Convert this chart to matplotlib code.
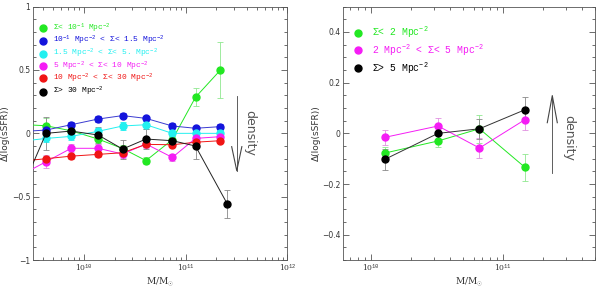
import numpy as np
import matplotlib
matplotlib.use("Agg")
import matplotlib.pyplot as plt
from matplotlib.ticker import NullFormatter, LogLocator, MultipleLocator

# ---------------- Left panel data ----------------
mass_left = [2.4e9, 4.25e9, 7.5e9, 1.38e10, 2.4e10, 4.08e10, 7.4e10, 1.25e11, 2.2e11]
mass_left_black = [2.4e9, 4.25e9, 7.5e9, 1.38e10, 2.4e10, 4.08e10, 7.4e10, 1.25e11, 2.57e11]

green_l = [0.07, 0.06, 0.02, -0.045, -0.12, -0.215, -0.05, 0.285, 0.50]
green_l_err = [0.06, 0.06, 0.03, 0.04, 0.03, 0.03, 0.03, 0.07, 0.22]
blue_l = [0.014, 0.026, 0.068, 0.113, 0.14, 0.118, 0.058, 0.04, 0.053]
blue_l_err = [0.02, 0.02, 0.02, 0.02, 0.02, 0.02, 0.02, 0.02, 0.02]
cyan_l = [-0.063, -0.04, -0.024, 0.016, 0.058, 0.068, 0.0, 0.0, 0.0]
cyan_l_err = [0.03, 0.03, 0.03, 0.03, 0.03, 0.03, 0.03, 0.03, 0.03]
magenta_l = [-0.33, -0.224, -0.118, -0.118, -0.163, -0.084, -0.19, -0.04, -0.026]
magenta_l_err = [0.05, 0.05, 0.03, 0.03, 0.03, 0.03, 0.03, 0.03, 0.03]
red_l = [-0.22, -0.2, -0.18, -0.166, -0.153, -0.087, -0.09, -0.07, -0.058]
red_l_err = [0.02, 0.02, 0.02, 0.02, 0.02, 0.02, 0.02, 0.02, 0.02]
black_l = [-0.46, 0.0, 0.018, -0.013, -0.124, -0.045, -0.058, -0.10, -0.558]
black_l_err = [0.13, 0.13, 0.05, 0.06, 0.075, 0.08, 0.04, 0.10, 0.11]

labels_left = [
    r"Σ< 10$^{-1}$ Mpc$^{-2}$",
    r"10$^{-1}$ Mpc$^{-2}$ < Σ< 1.5 Mpc$^{-2}$",
    r"1.5 Mpc$^{-2}$ < Σ< 5. Mpc$^{-2}$",
    r"5 Mpc$^{-2}$ < Σ< 10 Mpc$^{-2}$",
    r"10 Mpc$^{-2}$ < Σ< 30 Mpc$^{-2}$",
    r"Σ> 30 Mpc$^{-2}$",
]

# ---------------- Right panel data ----------------
mass_right = [1.27e10, 3.23e10, 6.65e10, 1.47e11]
green_r = [-0.078, -0.030, 0.018, -0.134]
green_r_err = [0.025, 0.025, 0.055, 0.053]
magenta_r = [-0.016, 0.029, -0.058, 0.054]
magenta_r_err = [0.03, 0.03, 0.04, 0.04]
black_r = [-0.103, 0.0, 0.018, 0.093]
black_r_err = [0.04, 0.03, 0.04, 0.05]

labels_right = [
    r"Σ< 2 Mpc$^{-2}$",
    r"2 Mpc$^{-2}$ < Σ< 5 Mpc$^{-2}$",
    r"Σ> 5 Mpc$^{-2}$",
]

C_GREEN = "#22e822"
C_BLUE = "#1414dc"
C_CYAN = "#22f0f0"
C_MAG = "#f51cf5"
C_RED = "#f01414"
C_BLACK = "#000000"

plt.rcParams["mathtext.fontset"] = "custom"
plt.rcParams["mathtext.rm"] = "Liberation Mono"
plt.rcParams["mathtext.it"] = "Liberation Mono"
plt.rcParams["mathtext.bf"] = "Liberation Mono"

LEG_FONT_L = dict(family="Liberation Mono", size=5.7)
LEG_FONT_R = dict(family="Liberation Mono", size=7.0)
MS = 5.0

fig = plt.figure(figsize=(6.0, 2.88), dpi=100)
axL = fig.add_axes([0.055, 0.097, 0.424, 0.880])
axR = fig.add_axes([0.572, 0.097, 0.420, 0.880])


def series(ax, x, y, e, color, lcolor=None, ecolor=None):
    ax.errorbar(x, y, yerr=e, fmt="-o", color=lcolor or color, mfc=color, mec=color,
                ms=MS, lw=0.7, elinewidth=0.6, ecolor=ecolor or color, capsize=2.0,
                capthick=0.6, zorder=3)


# Left
series(axL, mass_left, green_l, green_l_err, C_GREEN, ecolor="#8fe88f")
series(axL, mass_left, blue_l, blue_l_err, C_BLUE, lcolor="#3a3ad0")
series(axL, mass_left, cyan_l, cyan_l_err, C_CYAN)
series(axL, mass_left, magenta_l, magenta_l_err, C_MAG, ecolor="#e090e0")
series(axL, mass_left, red_l, red_l_err, C_RED, ecolor="#e08080")
series(axL, mass_left_black, black_l, black_l_err, C_BLACK, lcolor="#222222", ecolor="#888888")

# Right
series(axR, mass_right, green_r, green_r_err, C_GREEN, ecolor="#8fe88f")
series(axR, mass_right, magenta_r, magenta_r_err, C_MAG, ecolor="#e090e0")
series(axR, mass_right, black_r, black_r_err, C_BLACK, lcolor="#333333", ecolor="#888888")

for ax in (axL, axR):
    ax.set_xscale("log")
    ax.tick_params(which="both", direction="in", top=True, right=True,
                   labelsize=5.5, width=0.5, colors="#333333", pad=2)
    ax.tick_params(which="major", length=4)
    ax.tick_params(which="minor", length=2)
    for s in ax.spines.values():
        s.set_linewidth(0.6)
        s.set_color("#555555")
    ax.xaxis.set_major_locator(LogLocator(base=10))
    ax.xaxis.set_minor_locator(LogLocator(base=10, subs=np.arange(2, 10)))
    ax.xaxis.set_minor_formatter(NullFormatter())
    ax.set_xlabel(r"M/M$_{\odot}$", fontsize=6.5, family="DejaVu Serif", labelpad=0.5, color="#333333")
    ax.set_ylabel("Δ(log(sSFR))", fontsize=6.5, labelpad=1, color="#333333")

axL.set_xlim(10**9.5, 1e12)
axL.set_ylim(-1, 1)
axL.set_xticks([1e10, 1e11, 1e12])
axL.set_xticklabels([r"10$^{10}$", r"10$^{11}$", r"10$^{12}$"], family="DejaVu Serif")
axL.set_yticks([-1, -0.5, 0, 0.5, 1])
axL.set_yticklabels(["−1", "−0.5", "0", "0.5", "1"])
axL.yaxis.set_minor_locator(MultipleLocator(0.1))

axR.set_xlim(10**9.79, 10**11.70)
axR.set_ylim(-0.5, 0.5)
axR.set_xticks([1e10, 1e11])
axR.set_xticklabels([r"10$^{10}$", r"10$^{11}$"], family="DejaVu Serif")
axR.set_yticks([-0.4, -0.2, 0, 0.2, 0.4])
axR.set_yticklabels(["−0.4", "−0.2", "0", "0.2", "0.4"])
axR.yaxis.set_minor_locator(MultipleLocator(0.05))

# Legends (manual, as in the original)
leg_colors_left = [C_GREEN, C_BLUE, C_CYAN, C_MAG, C_RED, C_BLACK]
leg_y_left = [0.914, 0.865, 0.815, 0.766, 0.718, 0.664]
for lab, c, yy in zip(labels_left, leg_colors_left, leg_y_left):
    axL.plot([0.04], [yy], "o", color=c, ms=MS, transform=axL.transAxes, clip_on=False)
    axL.text(0.08, yy, lab, color=c, transform=axL.transAxes, va="center", ha="left", **LEG_FONT_L)

leg_colors_right = [C_GREEN, C_MAG, C_BLACK]
leg_y_right = [0.897, 0.829, 0.756]
for lab, c, yy in zip(labels_right, leg_colors_right, leg_y_right):
    axR.plot([0.058], [yy], "o", color=c, ms=MS, transform=axR.transAxes, clip_on=False)
    axR.text(0.115, yy, lab, color=c, transform=axR.transAxes, va="center", ha="left", **LEG_FONT_R)

# Density arrows
ac = "#444444"
xa = 3.18e11
axL.plot([xa, xa], [0.298, -0.295], color=ac, lw=0.6)
axL.plot([xa * 10**-0.05, xa, xa * 10**0.05], [-0.105, -0.295, -0.105], color=ac, lw=0.8)
axL.text(4.3e11, 0.0, "density", rotation=-90, ha="center", va="center",
         fontsize=9, color="#555555")

xb = 2.37e11
axR.plot([xb, xb], [-0.155, 0.149], color=ac, lw=0.6)
axR.plot([xb * 10**-0.038, xb, xb * 10**0.038], [0.042, 0.149, 0.042], color=ac, lw=0.8)
axR.text(3.16e11, -0.017, "density", rotation=-90, ha="center", va="center",
         fontsize=9, color="#555555")

fig.savefig("out.png", dpi=100)
